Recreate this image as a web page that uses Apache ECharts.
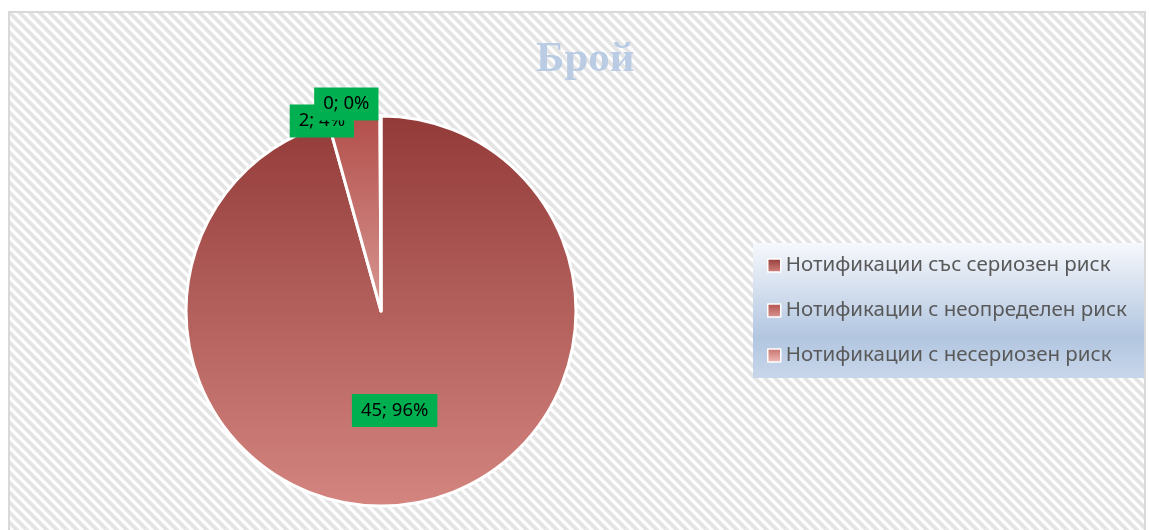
<!DOCTYPE html>
<html>
<head>
<meta charset="utf-8">
<script src="https://cdn.jsdelivr.net/npm/echarts@6/dist/echarts.min.js"></script>
<style>
    html, body { margin: 0; padding: 0; background: #fff; }
    #chartBox {
        position: absolute; left: 8px; top: 11px;
        width: 1138px; height: 530px;
        border: 2px solid #d9d9d9; box-sizing: border-box;
    }
    #chart { width: 100%; height: 100%; }
</style>
</head>
<body>
<div id="chartBox"><div id="chart"></div></div>
<script>
    // данни
    const titleText = 'Брой';
    const categories = [
        'Нотификации със сериозен риск',
        'Нотификации с неопределен риск',
        'Нотификации с несериозен риск'
    ];
    const values = [45, 2, 0];

    // цветове на резените (горе -> долу)
    const sliceColors = [
        ['#923a38', '#d4857f'],
        ['#b24e4a', '#d99893'],
        ['#c8706b', '#efbcb8']
    ];
    // отместване на етикетите за малките резени
    const labelOffsets = [[0, 0], [5, 3], [3, -12]];

    // фон с диагонални линии
    function stripePattern() {
        let c = document.createElement('canvas');
        c.width = 10; c.height = 10;
        let ctx = c.getContext('2d');
        ctx.fillStyle = '#ffffff';
        ctx.fillRect(0, 0, 10, 10);
        ctx.strokeStyle = '#e4e4e4';
        ctx.lineWidth = 4;
        ctx.beginPath();
        ctx.moveTo(-5, -5); ctx.lineTo(15, 15);
        ctx.moveTo(-15, -5); ctx.lineTo(5, 15);
        ctx.moveTo(5, -5); ctx.lineTo(25, 15);
        ctx.stroke();
        return c;
    }

    let chart = echarts.init(document.getElementById('chart'));
    let pieData = values.map((v, i) => ({
        name: categories[i],
        value: v,
        itemStyle: {
            color: new echarts.graphic.LinearGradient(0, 0, 0, 1, [
                {offset: 0, color: sliceColors[i][0]},
                {offset: 1, color: sliceColors[i][1]}
            ])
        },
        label: i === 0 ? {position: 'inside'} : {position: 'outside', offset: labelOffsets[i]}
    }));

    let option = {
        backgroundColor: {image: stripePattern(), repeat: 'repeat'},
        title: {
            text: titleText,
            left: 521,
            top: 20,
            textStyle: {
                fontFamily: 'Liberation Serif',
                fontWeight: 'bold',
                fontSize: 43,
                color: '#b9cce4'
            }
        },
        legend: {
            orient: 'vertical',
            left: 743,
            top: 230,
            padding: [12, 18, 12, 14],
            itemWidth: 13,
            itemHeight: 13,
            itemGap: 24,
            icon: 'rect',
            itemStyle: {borderColor: '#ffffff', borderWidth: 1.5},
            backgroundColor: new echarts.graphic.LinearGradient(0, 0, 0, 1, [
                {offset: 0, color: '#f6f8fc'},
                {offset: 0.7, color: '#b2c6e0'},
                {offset: 1, color: '#c8d6ea'}
            ]),
            textStyle: {
                fontFamily: 'Noto Sans',
                fontSize: 20.5,
                color: '#595959'
            },
            data: categories
        },
        series: [{
            type: 'pie',
            center: [371, 298],
            radius: 195,
            startAngle: 90,
            clockwise: true,
            minAngle: 0.3,
            minShowLabelAngle: -1,
            avoidLabelOverlap: false,
            labelLayout: {hideOverlap: false},
            percentPrecision: 0,
            animation: false,
            itemStyle: {borderColor: '#ffffff', borderWidth: 3},
            label: {
                show: true,
                formatter: '{c}; {d}%',
                fontFamily: 'Noto Sans',
                fontSize: 18.5,
                color: '#000000',
                backgroundColor: '#00b050',
                padding: [7, 9, 7, 9]
            },
            labelLine: {show: false, length: 0, length2: 0},
            emphasis: {disabled: true},
            data: pieData
        }]
    };
    chart.setOption(option);
    window.addEventListener('resize', function () {
        chart.resize();
    });
</script>
</body>
</html>
